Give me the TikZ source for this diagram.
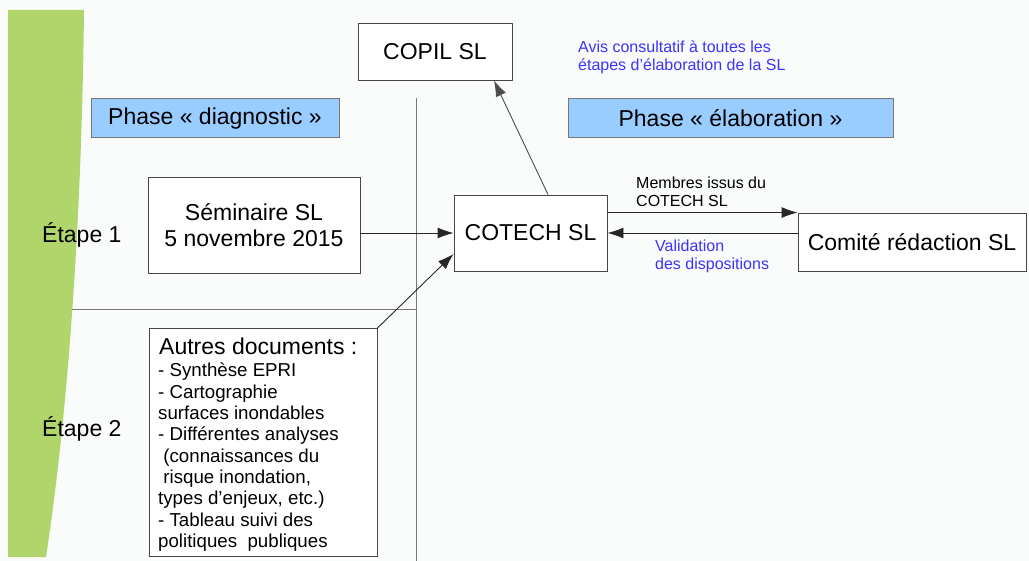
\documentclass[tikz,border=0pt]{standalone}
\usepackage{fontspec}
\setmainfont{Liberation Sans}
\usetikzlibrary{arrows.meta}
\definecolor{bandgreen}{RGB}{176,213,106}
\definecolor{phaseblue}{RGB}{153,204,255}
\definecolor{notecol}{RGB}{60,50,250}
\definecolor{bordergray}{RGB}{70,70,70}
\definecolor{rulegray}{RGB}{120,120,120}
\definecolor{paper}{RGB}{250,252,252}
\tikzset{
  big/.style={font=\fontsize{23}{26}\selectfont},
  small/.style={font=\fontsize{16}{18}\selectfont, align=left, inner sep=0pt},
  box/.style={draw=bordergray, line width=0.9pt, fill=white, inner sep=0pt, big, align=center},
  phasebox/.style={draw=rulegray, line width=1pt, fill=phaseblue, inner sep=0pt, big},
  conn/.style={draw=black!85, line width=0.9pt, -{Latex[length=16pt,width=11pt]}},
  divider/.style={draw=rulegray, line width=0.9pt},
}
\begin{document}
\begin{tikzpicture}[x=1pt,y=-1pt]
  % page
  \fill[paper] (0,0) rectangle (1029,561);
  \useasboundingbox (0,0) rectangle (1029,561);

  % green band on the left
  \fill[bandgreen] (8,10) -- (84,10) .. controls (82,200) and (70,400) .. (46,557) -- (8,557) -- cycle;

  % dividing lines between phases and steps
  \coordinate (vtop) at (416,98);
  \coordinate (vbot) at (416,561);
  \coordinate (hleft) at (72,309);
  \draw[divider] (vtop) -- (vbot);
  \draw[divider] (hleft) -- (hleft -| vtop);

  % phase headers
  \node[phasebox, minimum width=248pt, minimum height=39pt] (phdiag) at (215,118.5) {Phase « diagnostic »};
  \node[phasebox, minimum width=325pt, minimum height=39pt] (phelab) at (730.5,118.5) {Phase « élaboration »};

  % step labels
  \node[big, anchor=base west, inner sep=0pt] (etape1) at (42,243) {Étape 1};
  \node[big, anchor=base west, inner sep=0pt] (etape2) at (42,436) {Étape 2};

  % main boxes
  \node[box, minimum width=154pt, minimum height=57pt] (copil) at (435,51.5) {COPIL SL};
  \node[box, minimum width=212pt, minimum height=96pt] (seminaire) at (254,225) {Séminaire SL\\5 novembre 2015};
  \node[box, minimum width=153pt, minimum height=76pt] (cotech) at (530.5,233) {COTECH SL};
  \node[box, minimum width=228pt, minimum height=58pt] (comite) at (912,242) {Comité rédaction SL};

  % other documents
  \node[draw=bordergray, line width=0.9pt, fill=white, minimum width=228pt, minimum height=228pt, inner sep=0pt] (autres) at (263,442.5) {};
  \node[big, anchor=base west, inner sep=0pt] (autrestitle) at (159,355) {Autres documents :};
  \node[anchor=north west, inner sep=0pt, align=left, font=\fontsize{18.7}{21.3}\selectfont] (autreslist) at (158,363)
    {- Synthèse EPRI\\
     - Cartographie\\
     surfaces inondables\\
     - Différentes analyses\\
     \ (connaissances du\\
     \ risque inondation,\\
     types d’enjeux, etc.)\\
     - Tableau suivi des\\
     politiques\ \ publiques};

  % notes (base anchor sits on the last line)
  \node[small, text=notecol, anchor=base west] (avis) at (578,71) {Avis consultatif à toutes les\\étapes d’élaboration de la SL};
  \node[small, anchor=base west] (membres) at (636,207) {Membres issus du\\COTECH SL};
  \node[small, text=notecol, anchor=base west] (valid) at (655,270) {Validation\\des dispositions};

  % connectors
  \draw[conn] (seminaire.east |- cotech.west) -- (cotech.west);
  \draw[conn] (autres.north east) -- ([yshift=-21pt]cotech.west);
  \draw[conn, draw=black!70] ([xshift=17.5pt]cotech.north) -- ([xshift=59pt]copil.south);
  \draw[conn] (cotech.east |- comite.north west) -- (comite.north west);
  \draw[conn] (comite.west |- cotech.east) -- (cotech.east);
\end{tikzpicture}
\end{document}
